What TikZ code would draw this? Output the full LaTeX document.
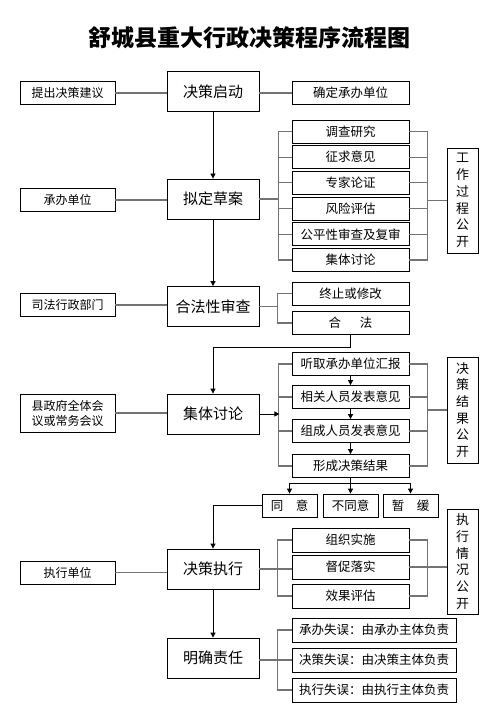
\documentclass[tikz,border=0pt]{standalone}
\usepackage{fontspec}
\newfontfamily\cjk{Noto Sans CJK SC}
\usetikzlibrary{arrows.meta}

\begin{document}
\begin{tikzpicture}[x=1pt, y=-1pt,
  box/.style={draw, line width=0.8pt, inner sep=0pt, align=center,
    font=\cjk\fontsize{12.5}{15}\selectfont},
  mainbox/.style={box, minimum width=92pt, minimum height=40pt,
    font=\cjk\fontsize{15}{18}\selectfont},
  sidebox/.style={box, minimum width=95pt, minimum height=23pt,
    font=\cjk\fontsize{12}{15}\selectfont},
  subbox/.style={box, minimum width=117pt, minimum height=23pt},
  pickbox/.style={box, minimum width=55pt, minimum height=23pt},
  dutybox/.style={box, minimum width=164pt, minimum height=24pt},
  pubbox/.style={box, minimum width=31pt, minimum height=105pt,
    font=\cjk\fontsize{13}{16.7}\selectfont},
  link/.style={draw=black!55, line width=1.2pt},
  flow/.style={draw=black, line width=0.8pt, -{Triangle[length=5pt,width=5pt]}},
]
  \useasboundingbox (0,0) rectangle (498,714);
  % Parameters
  \def\mx{213}    % main column
  \def\sx{350.5}  % sub column
  \def\px{462.5}  % publicity column

  % Title
  \node[font=\cjk\bfseries\fontsize{23}{27}\selectfont] (title) at (249,38) {舒城县重大行政决策程序流程图};

  % Main column
  \node[mainbox] (start) at (\mx,91.5) {决策启动};
  \node[mainbox] (draft) at (\mx,199) {拟定草案};
  \node[mainbox] (legal) at (\mx,306.5) {合法性审查};
  \node[mainbox] (discuss) at (\mx,414) {集体讨论};
  \node[mainbox] (exec) at (\mx,569) {决策执行};
  \node[mainbox] (duty) at (\mx,658) {明确责任};

  % Left column
  \node[sidebox] (propose) at (67.5,93) {提出决策建议};
  \node[sidebox] (unit) at (67.5,200) {承办单位};
  \node[sidebox] (judicial) at (67.5,305) {司法行政部门};
  \node[sidebox, minimum height=38pt] (council) at (67.5,413) {县政府全体会\\议或常务会议};
  \node[sidebox] (execunit) at (67.5,572.5) {执行单位};

  \draw[link] (propose.east) -- (propose.east -| start.west);
  \draw[link] (unit.east) -- (unit.east -| draft.west);
  \draw[link] (judicial.east) -- (judicial.east -| legal.west);
  \draw[link] (council.east) -- (council.east -| discuss.west);
  \draw[link] (execunit.east) -- (execunit.east -| exec.west);

  % Start
  \node[subbox] (confirm) at (\sx,93) {确定承办单位};
  \draw[link] (start.east |- confirm.west) -- (confirm.west);
  \draw[flow] (start) -- (draft);

  % Draft
  \node[subbox] (research) at (\sx,131.5) {调查研究};
  \node[subbox] (opinion) at (\sx,157.2) {征求意见};
  \node[subbox] (expert) at (\sx,182.9) {专家论证};
  \node[subbox] (risk) at (\sx,208.6) {风险评估};
  \node[subbox] (fairness) at (\sx,234.3) {公平性审查及复审};
  \node[subbox] (group) at (\sx,260) {集体讨论};
  \node[pubbox] (workpub) at (\px,200.5) {工\\作\\过\\程\\公\\开};

  \draw[link] (research.west) -- ++(-13,0) |- (group.west);
  \draw[link] (research.east) -- ++(18,0) |- (group.east);
  \foreach \n in {opinion,expert,risk,fairness} {
    \draw[link] (\n.west) -- ++(-13,0);
    \draw[link] (\n.east) -- ++(18,0);
  }
  \draw[link] (draft.east) -- ++(20,0);
  \draw[link] (workpub.west) -- ++(-20,0);
  \draw[flow] (draft) -- (legal);

  % Legality review
  \node[subbox] (stopmod) at (\sx,293.5) {终止或修改};
  \node[subbox] (legalok) at (\sx,323) {合\hspace{1.5em}法};
  \draw[link] (stopmod.west) -- ++(-14,0) |- (legalok.west);
  \draw[link] (legal.east) -- ++(19,0);
  \draw[flow] (legalok.south) -- ++(0,12) -| (discuss.north);

  % Collective discussion
  \node[subbox] (hear) at (\sx,364) {听取承办单位汇报};
  \node[subbox] (views) at (\sx,397) {相关人员发表意见};
  \node[subbox] (members) at (\sx,431) {组成人员发表意见};
  \node[subbox] (result) at (\sx,466) {形成决策结果};
  \node[pubbox, minimum height=106pt] (resultpub) at (\px,410) {决\\策\\结\\果\\公\\开};

  \draw[link] (hear.west) -- ++(-13,0) |- (result.west);
  \draw[link] (hear.east) -- ++(18,0) |- (result.east);
  \foreach \n in {views,members} {
    \draw[link] (\n.west) -- ++(-13,0);
    \draw[link] (\n.east) -- ++(18,0);
  }
  \draw[flow] (discuss.east) -- ++(20,0);
  \draw[link] (resultpub.west) -- ++(-20,0);
  \draw[flow] (hear) -- (views);
  \draw[flow] (views) -- (members);
  \draw[flow] (members) -- (result);

  % Outcome
  \node[pickbox] (agree) at (289.5,505.5) {同\hspace{1em}意};
  \node[pickbox] (disagree) at (350.5,505.5) {不同意};
  \node[pickbox] (defer) at (410.5,505.5) {暂\hspace{1em}缓};
  \coordinate (bus) at (\sx,483);
  \draw[flow] (result.south) -- (disagree.north);
  \draw[flow] (bus) -| (agree.north);
  \draw[flow] (bus) -| (defer.north);
  \draw[flow] (agree.west) -| (exec.north);

  % Execution
  \node[subbox, minimum height=24pt] (organize) at (\sx,540) {组织实施};
  \node[subbox, minimum height=24pt] (supervise) at (\sx,567) {督促落实};
  \node[subbox, minimum height=24pt] (evaluate) at (\sx,596) {效果评估};
  \node[pubbox] (execpub) at (\px,561.5) {执\\行\\情\\况\\公\\开};

  \draw[link] (organize.west) -- ++(-14,0) |- (evaluate.west);
  \draw[link] (organize.east) -- ++(18,0) |- (evaluate.east);
  \draw[link] (exec.east) -- (exec.east -| supervise.west);
  \draw[link] (supervise.east) -- (supervise.east -| execpub.west);
  \draw[flow] (exec) -- (duty);

  % Responsibility
  \node[dutybox] (dutyA) at (374,630) {承办失误：由承办主体负责};
  \node[dutybox] (dutyB) at (374,660) {决策失误：由决策主体负责};
  \node[dutybox] (dutyC) at (374,690) {执行失误：由执行主体负责};
  \draw[link] (dutyA.west) -- ++(-14,0) |- (dutyC.west);
  \draw[link] (duty.east |- dutyB.west) -- (dutyB.west);
\end{tikzpicture}
\end{document}
